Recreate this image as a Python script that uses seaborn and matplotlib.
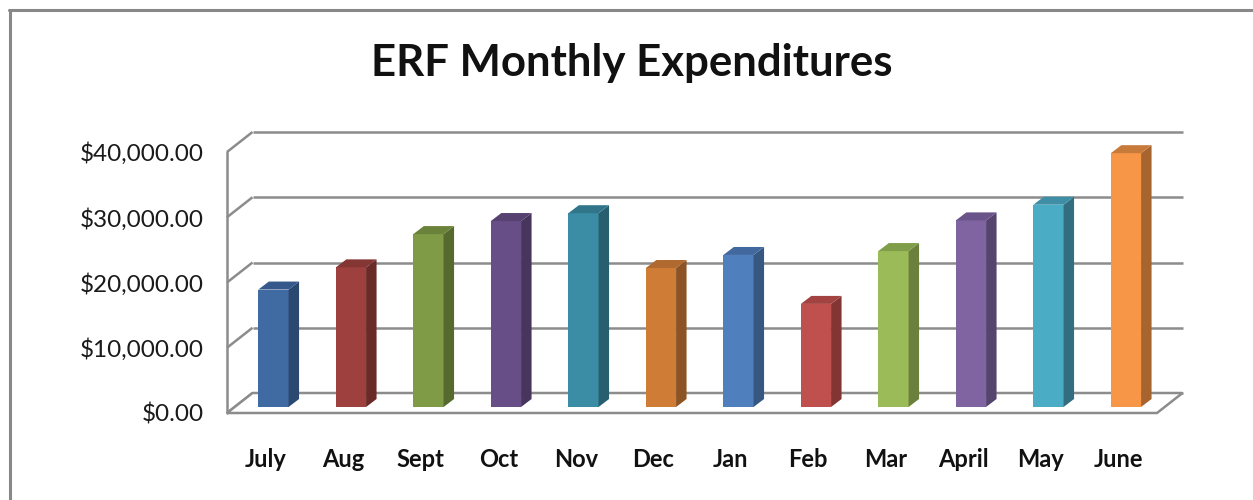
import numpy as np
import pandas as pd
import matplotlib
matplotlib.use("Agg")
import matplotlib.pyplot as plt
import seaborn as sns
from matplotlib.patches import Polygon
from matplotlib.lines import Line2D
from matplotlib.ticker import FuncFormatter

# ---- data ----
months = ["July", "Aug", "Sept", "Oct", "Nov", "Dec",
          "Jan", "Feb", "Mar", "April", "May", "June"]
expenditures = [18000, 21400, 26500, 28500, 29700, 21300,
                23300, 15800, 23900, 28600, 31000, 38900]
yticks = [0, 10000, 20000, 30000, 40000]
front_colors = ["#3F6BA2", "#9E403D", "#7F9B45", "#684E86", "#3A8DA5", "#CF7C37",
                "#4F80BD", "#C0504D", "#9BBB59", "#8064A2", "#4BACC6", "#F79646"]
side_colors = ["#2B4870", "#6A2A28", "#56692F", "#47355C", "#275F70", "#8C5424",
               "#365781", "#833533", "#6A803C", "#56446F", "#326E80", "#A8642E"]
top_colors = ["#35598A", "#843634", "#6A823A", "#574170", "#30758A", "#B0692E",
              "#42699F", "#A24341", "#809E49", "#6A5388", "#3E8FA5", "#C87A3B"]

sns.set_theme(style="white")
plt.rcParams["font.family"] = ["Lato", "DejaVu Sans"]

W, H = 1253, 500
fig = plt.figure(figsize=(W / 100, H / 100), dpi=100)
ax = fig.add_axes([227 / W, 87 / H, 930 / W, 261 / H])

df = pd.DataFrame({"month": months, "value": expenditures})
sns.barplot(data=df, x="month", y="value", hue="month", palette=front_colors,
            width=0.39, legend=False, ax=ax, saturation=1, zorder=3,
            edgecolor="none", linewidth=0)
ax.set_xlim(-0.5, len(months) - 0.5)
ax.set_ylim(0, 40000)

# pixel -> data conversion for the pseudo-3D offsets
px_x = 930 / len(months)
px_y = 261 / 40000


def off(dxp, dyp):
    return dxp / px_x, dyp / px_y


Dx, Dy = off(25.5, 20)     # full depth of the box
Bx, By = off(7.7, 6)       # depth position of bar fronts
Tx, Ty = off(10.5, 8)      # bar thickness

gcol = "#8c8c8c"
glw = 1.8
x_left, x_right = -0.5, len(months) - 0.5
# back wall gridlines + left wall diagonals
for v in yticks:
    ax.plot([x_left, x_left + Dx], [v, v + Dy], color=gcol, lw=glw, zorder=1,
            clip_on=False, solid_capstyle="butt")
    ax.plot([x_left + Dx, x_right + Dx], [v + Dy, v + Dy], color=gcol, lw=glw,
            zorder=1, clip_on=False, solid_capstyle="butt")
# left front vertical edge
ax.plot([x_left, x_left], [0, yticks[-1]], color=gcol, lw=glw, zorder=1, clip_on=False)
# floor
floor = Polygon([(x_left, 0), (x_right, 0), (x_right + Dx, Dy), (x_left + Dx, Dy)],
                closed=True, facecolor="white", edgecolor=gcol, lw=glw, zorder=2,
                clip_on=False)
ax.add_patch(floor)

# shift bars to their depth and add side / top faces
for i, p in enumerate(list(ax.patches)):
    if p is floor:
        continue
    x0 = p.get_x() + Bx
    w = p.get_width()
    h = p.get_height()
    p.set_x(x0)
    p.set_y(By)
    p.set_clip_on(False)
    p.set_zorder(4)
    k = int(round(x0 - Bx + w / 2))
    side = Polygon([(x0 + w, By), (x0 + w + Tx, By + Ty),
                    (x0 + w + Tx, By + h + Ty), (x0 + w, By + h)],
                   closed=True, facecolor=side_colors[k], edgecolor="none",
                   zorder=4, clip_on=False)
    top = Polygon([(x0, By + h), (x0 + w, By + h),
                   (x0 + w + Tx, By + h + Ty), (x0 + Tx, By + h + Ty)],
                  closed=True, facecolor=top_colors[k], edgecolor="none",
                  zorder=4, clip_on=False)
    ax.add_patch(side)
    ax.add_patch(top)

for s in ax.spines.values():
    s.set_visible(False)
ax.set_xlabel("")
ax.set_ylabel("")
ax.set_yticks(yticks)
ax.yaxis.set_major_formatter(FuncFormatter(lambda v, _: f"${v:,.2f}"))
ax.tick_params(axis="y", length=0, pad=17, labelsize=17.5, labelcolor="#1a1a1a")
ax.tick_params(axis="x", length=0, pad=25, labelsize=17, labelcolor="#111111")
for t in ax.get_xticklabels():
    t.set_fontweight("bold")

fig.text(632 / W, 1 - 63 / H, "ERF Monthly Expenditures", ha="center", va="center",
         fontsize=31.5, fontweight="bold", color="#111111")

# outer chart frame
fcol = "#888888"
fig.add_artist(Line2D([9.5 / W, 9.5 / W], [0, 1 - 10 / H], color=fcol, lw=2.2,
                      transform=fig.transFigure))
fig.add_artist(Line2D([8.5 / W, 1], [1 - 10 / H, 1 - 10 / H], color=fcol, lw=2.2,
                      transform=fig.transFigure))

fig.savefig("out.png", dpi=100)
